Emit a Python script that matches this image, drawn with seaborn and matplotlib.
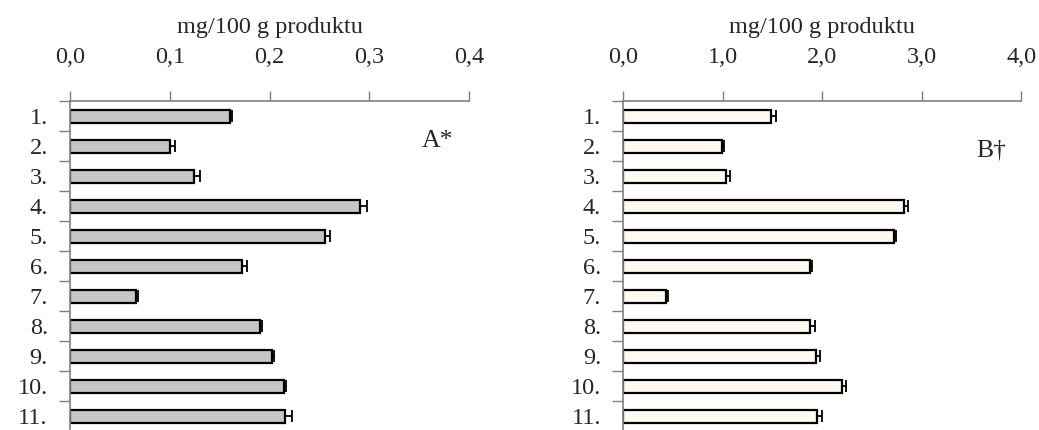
import matplotlib
matplotlib.use('Agg')
import matplotlib.pyplot as plt
import numpy as np
import pandas as pd
import seaborn as sns
from matplotlib.ticker import FuncFormatter, FixedLocator

sns.set_style('white')
plt.rcParams['font.family'] = ['Liberation Serif', 'DejaVu Serif']

# Values
categories = ['1.', '2.', '3.', '4.', '5.', '6.', '7.', '8.', '9.', '10.', '11.']
values_a = [0.160, 0.100, 0.124, 0.291, 0.256, 0.172, 0.066, 0.190, 0.202, 0.215, 0.216]
errors_a = [0.002, 0.005, 0.006, 0.007, 0.005, 0.005, 0.002, 0.002, 0.002, 0.002, 0.007]
values_b = [1.48, 0.99, 1.03, 2.82, 2.72, 1.88, 0.43, 1.88, 1.94, 2.20, 1.95]
errors_b = [0.05, 0.02, 0.045, 0.045, 0.02, 0.02, 0.02, 0.045, 0.04, 0.037, 0.045]
xticks_a = [0.0, 0.1, 0.2, 0.3, 0.4]
xticks_b = [0.0, 1.0, 2.0, 3.0, 4.0]
axis_label = 'mg/100 g produktu'

fig = plt.figure(figsize=(10.39, 4.30), dpi=100)
ax_a = fig.add_axes([0.0674, 0.0, 0.384, 0.765])
ax_b = fig.add_axes([0.600, 0.0, 0.383, 0.765])

panels = [
    (ax_a, values_a, errors_a, xticks_a, '#c6c6c6', 'A*', 0.92, 0.88),
    (ax_b, values_b, errors_b, xticks_b, '#fff9f0', 'B\u2020', 0.925, 0.85),
]

for ax, vals, errs, xticks, color, tag, tx, ty in panels:
    df = pd.DataFrame({'cat': categories, 'val': vals})
    sns.barplot(data=df, x='val', y='cat', orient='h', color=color,
                edgecolor='black', linewidth=1.6, width=0.43,
                saturation=1, ax=ax)
    ypos = np.arange(len(categories))
    ax.errorbar(vals, ypos, xerr=[np.zeros(len(errs)), errs], fmt='none',
                ecolor='black', elinewidth=1.3, capsize=4, capthick=1.3)

    ax.set_xlim(xticks[0], xticks[-1])
    ax.set_ylim(10.45, -0.5)
    ax.xaxis.set_ticks_position('top')
    ax.xaxis.set_label_position('top')
    ax.set_xticks(xticks)
    ax.xaxis.set_major_formatter(FuncFormatter(lambda v, p: f'{v:.1f}'.replace('.', ',')))
    ax.tick_params(axis='x', length=7, width=1, color='#808080', pad=17,
                   labelsize=17.5, top=True, bottom=False)
    ax.set_xlabel(axis_label, fontsize=17.5, labelpad=10)
    ax.set_ylabel('')

    # category labels at centers, tick marks at the boundaries
    ax.tick_params(axis='y', which='major', length=0, pad=16, labelsize=17.5)
    ax.yaxis.set_minor_locator(FixedLocator(np.arange(-0.5, 10.0, 1.0)))
    ax.tick_params(axis='y', which='minor', length=8, width=1, color='#808080', left=True)
    for lbl in ax.get_yticklabels():
        lbl.set_horizontalalignment('right')

    for side in ['right', 'bottom']:
        ax.spines[side].set_visible(False)
    for side in ['top', 'left']:
        ax.spines[side].set_color('#808080')
        ax.spines[side].set_linewidth(1.2)

    ax.text(tx, ty, tag, transform=ax.transAxes, fontsize=18.5,
            ha='center', va='center')

fig.savefig('out.png', dpi=100)
